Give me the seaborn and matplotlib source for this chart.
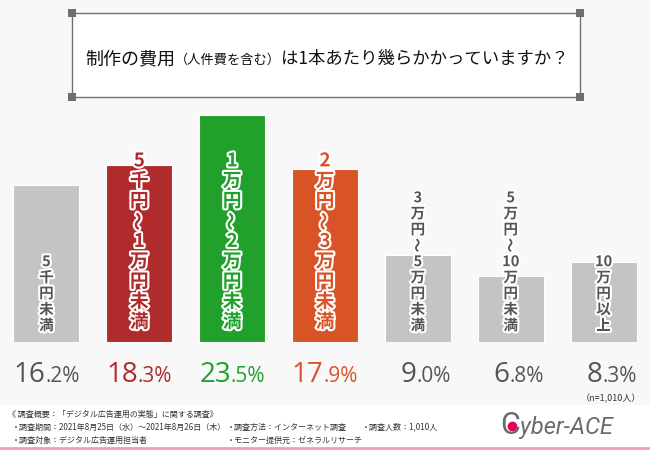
import re
import matplotlib
matplotlib.use("Agg")
import matplotlib.pyplot as plt
import matplotlib.patheffects as pe
from matplotlib.patches import Rectangle
from matplotlib.lines import Line2D
import pandas as pd
import seaborn as sns


# =========================================
# DATA
# =========================================

categories = ["5千円未満", "5千円〜1万円未満", "1万円〜2万円未満", "2万円〜3万円未満",
              "3万円〜5万円未満", "5万円〜10万円未満", "10万円以上"]
shares = [16.2, 18.3, 23.5, 17.9, 9.0, 6.8, 8.3]
bar_colors = ["#c4c4c4", "#b02b2b", "#21a02b", "#d85427", "#c4c4c4", "#c4c4c4", "#c4c4c4"]
text_colors = ["#555555", "#b02b2b", "#21a02b", "#d85427", "#555555", "#555555", "#555555"]
highlight = [False, True, True, True, False, False, False]

title_parts = ["制作の費用", "（人件費を含む）", "は1本あたり幾らかかっていますか？"]
title_sizes = [13, 9.5, 12.5]
sample_note = "（n=1,010人）"
footer_head = "《 調査概要：「デジタル広告運用の実態」に関する調査》"
footer_row1 = ["・調査期間：2021年8月25日（水）〜2021年8月26日（木）",
               "・調査方法：インターネット調査", "・調査人数：1,010人"]
footer_row2 = ["・調査対象：デジタル広告運用担当者", "・モニター提供元：ゼネラルリサーチ"]
logo_parts = ["C", "yber-ACE"]

df = pd.DataFrame({"category": categories, "share": shares})


# =========================================
# STYLE
# =========================================

sns.set_style("white")
plt.rcParams["font.family"] = ["Noto Sans CJK JP", "DejaVu Sans"]

W, H = 650, 450
fig = plt.figure(figsize=(6.5, 4.5), dpi=100)
fig.patch.set_facecolor("white")
renderer = fig.canvas.get_renderer()

# light backdrop behind the chart area
fig.add_artist(Rectangle((0, 1 - 405 / H), 1, 405 / H, transform=fig.transFigure,
                         facecolor="#f8f8f8", edgecolor="none", zorder=-5))


# =========================================
# BARS
# =========================================

ax = fig.add_axes([0, 0.24, 1, 0.5367])
ax.set_facecolor("none")

sns.barplot(data=df, x="category", y="share", hue="category", palette=bar_colors,
            order=categories, hue_order=categories, legend=False, width=0.71,
            edgecolor="white", linewidth=0.8, saturation=1, ax=ax)

ax.set_xlim(-0.5, 6.5)
ax.set_ylim(0, 25)
ax.axis("off")

stroke = [pe.withStroke(linewidth=3, foreground="white")]

for i, cat in enumerate(categories):
    tokens = re.findall(r"\d+|.", cat)
    if highlight[i]:
        size, step, base = 13.5, 14.5, 14.4
    else:
        size, step, base = 10.5, 11.5, 12.2
    for k, tok in enumerate(reversed(tokens)):
        ax.annotate(tok, xy=(i, 0), xytext=(0, base + k * step), textcoords="offset points",
                    ha="center", va="center", fontsize=size, fontweight="bold",
                    color=text_colors[i], rotation=90 if tok == "〜" else 0,
                    rotation_mode="anchor", path_effects=stroke, annotation_clip=False)

    # percentage under each bar: big integer part, small decimals
    whole, frac = f"{shares[i]:.1f}".split(".")
    ax.annotate(whole, xy=(i, 0), xytext=(-1, -29), textcoords="offset points",
                ha="right", va="baseline", fontsize=20, family=["Open Sans"],
                fontweight="medium", color=text_colors[i], annotation_clip=False)
    ax.annotate("." + frac + "%", xy=(i, 0), xytext=(-1, -29), textcoords="offset points",
                ha="left", va="baseline", fontsize=15, family=["Open Sans"],
                fontweight="medium", color=text_colors[i], annotation_clip=False)

fig.text(611 / W, 1 - 399 / H, sample_note, ha="center", va="center", fontsize=6.5, color="#333333")


# =========================================
# TITLE BOX
# =========================================

bx0, by0, bx1, by1 = 72, 13, 580, 97
fig.add_artist(Rectangle((bx0 / W, 1 - by1 / H), (bx1 - bx0) / W, (by1 - by0) / H,
                         transform=fig.transFigure, facecolor="white",
                         edgecolor="#707070", linewidth=1, zorder=1))
for cx, cy in [(bx0, by0), (bx1, by0), (bx0, by1), (bx1, by1)]:
    fig.add_artist(Rectangle(((cx - 4) / W, 1 - (cy + 4) / H), 8 / W, 8 / H,
                             transform=fig.transFigure, facecolor="#6e6e6e",
                             edgecolor="none", zorder=2))

# title pieces side by side on a common baseline
x_px = 85
for txt, fs in zip(title_parts, title_sizes):
    t = fig.text(x_px / W, 1 - 64 / H, txt, ha="left", va="baseline",
                 fontsize=fs, color="#111111", zorder=3)
    x_px += t.get_window_extent(renderer).width


# =========================================
# FOOTER
# =========================================

fig.text(8 / W, 1 - 414 / H, footer_head, ha="left", va="center", fontsize=5.8, color="#333333")
for x, txt in zip([12, 227, 362], footer_row1):
    fig.text(x / W, 1 - 427 / H, txt, ha="left", va="center", fontsize=5.8, color="#333333")
for x, txt in zip([12, 227], footer_row2):
    fig.text(x / W, 1 - 440 / H, txt, ha="left", va="center", fontsize=5.8, color="#333333")

fig.add_artist(Line2D([0, 1], [1 - 448 / H] * 2, transform=fig.transFigure,
                      color="#f2a0b4", linewidth=2))

# logo: big C with a red dot inside, then the rest
c_txt = fig.text(500 / W, 1 - 434 / H, logo_parts[0], ha="left", va="baseline",
                 fontsize=22, family=["Roboto"], color="#6b6b6b")
cb = c_txt.get_window_extent(renderer)
fig.text((500 + cb.width) / W, 1 - 434 / H, logo_parts[1], ha="left", va="baseline",
         fontsize=17, style="italic", family=["Roboto"], color="#6b6b6b")
fig.add_artist(Line2D([(cb.x0 + cb.width * 0.58) / W], [(cb.y0 + cb.height * 0.5) / H],
                      transform=fig.transFigure, marker="o", markersize=6,
                      color="#e6005c", linestyle="none"))

plt.savefig("out.png", dpi=100)
